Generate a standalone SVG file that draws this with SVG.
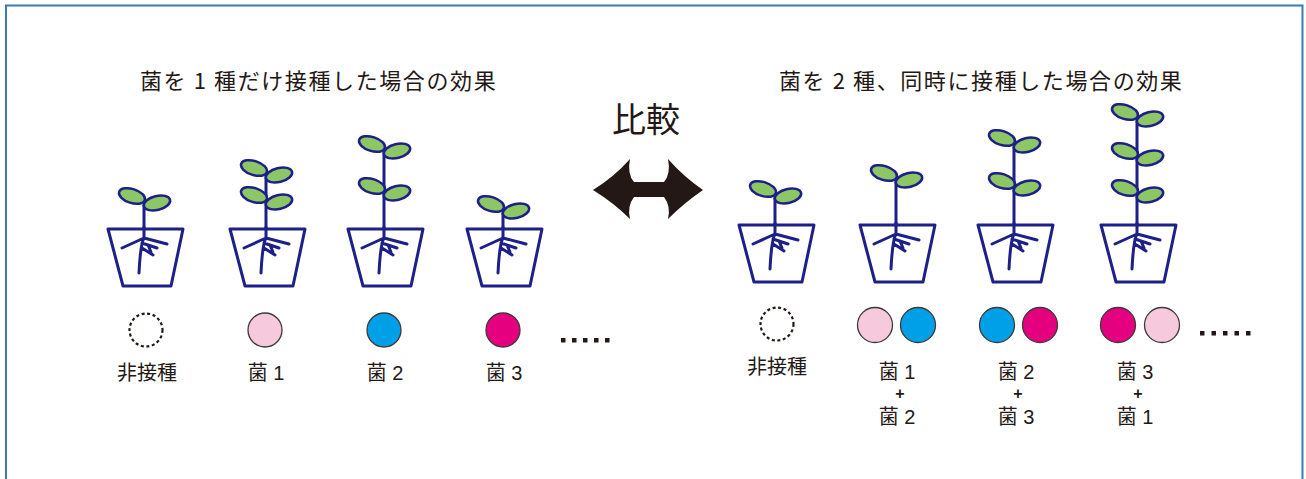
<svg xmlns="http://www.w3.org/2000/svg" xmlns:xlink="http://www.w3.org/1999/xlink" width="1306" height="479" viewBox="0 0 1306 479">
  <style>
    .txt { font-family: "Noto Sans CJK JP", "Noto Sans", sans-serif; fill: #231815; }
    .title { font-size: 22px; letter-spacing: 1.6px; }
    .lbl { font-family: "Liberation Sans", "Noto Sans CJK JP", sans-serif; font-size: 20px; text-anchor: middle; }
    .plus { font-family: "Liberation Sans", sans-serif; font-size: 16px; text-anchor: middle; font-weight: bold; }
    .line { fill: none; stroke: #1d2088; stroke-width: 3; stroke-linejoin: round; stroke-linecap: round; }
    .leaf { fill: #8cc665; stroke: #1d2088; stroke-width: 2.5; }
    .dish { stroke: #3e3a39; stroke-width: 1.3; }
    .none { fill: #fff; stroke: #231815; stroke-width: 2.2; stroke-dasharray: 3 2.6; }
    .dot { fill: #231815; }
  </style>
  <defs>
    <!-- pot with roots, origin = stem x at rim level -->
    <g id="pot">
      <path class="line" d="M-36,0 L39,0 L27,57 L-21,57 Z"/>
      <path class="line" d="M0,-2 L0,9 M0,9 L-22,19 M0,9 L23,15 M0,9 C-3,14 -4,24 -5,44 M-2,14 L13,19 M-2,19 L9,26 M4,16 L7,23"/>
    </g>
    <!-- a pair of leaves, origin = joint on the stem -->
    <g id="leaves">
      <ellipse class="leaf" cx="-12" cy="-9" rx="13.5" ry="7" transform="rotate(18 -12 -9)"/>
      <ellipse class="leaf" cx="13" cy="-2" rx="13.5" ry="7" transform="rotate(-14 13 -2)"/>
    </g>
    <rect id="dot" width="4.5" height="4.5" class="dot"/>
  </defs>

  <rect x="6" y="5.5" width="1296.5" height="480" fill="#fff" stroke="#3a7ab8" stroke-width="2"/>

  <!-- headings -->
  <text class="txt title" x="140" y="89">菌を 1 種だけ接種した場合の効果</text>
  <text class="txt title" x="779" y="89">菌を 2 種、同時に接種した場合の効果</text>
  <text class="txt" x="646" y="132" font-size="34" text-anchor="middle">比較</text>

  <!-- comparison arrow -->
  <g id="compare-arrow">
    <path fill="#231815" d="M593,190 Q614,177 630,159 Q627,174 634,182 L664,182 Q671,174 668,159 Q684,177 703,190 Q684,203 668,219 Q671,206 664,197 L634,197 Q627,206 630,219 Q614,203 593,190 Z"/>
  </g>

  <!-- single inoculation -->
  <g id="plant-none-left">
    <path class="line" d="M144,205 L144,229"/>
    <use xlink:href="#leaves" x="144" y="205"/>
    <use xlink:href="#pot" x="144" y="229"/>
    <circle class="none" cx="146" cy="330" r="16.5"/>
    <text class="txt lbl" x="147" y="380">非接種</text>
  </g>
  <g id="plant-b1">
    <path class="line" d="M266,177 L266,229"/>
    <use xlink:href="#leaves" x="266" y="177"/>
    <use xlink:href="#leaves" x="266" y="204"/>
    <use xlink:href="#pot" x="266" y="229"/>
    <circle class="dish" cx="265" cy="330" r="17" fill="#f6c9dc"/>
    <text class="txt lbl" x="266" y="380">菌 1</text>
  </g>
  <g id="plant-b2">
    <path class="line" d="M384,153 L384,229"/>
    <use xlink:href="#leaves" x="384" y="153"/>
    <use xlink:href="#leaves" x="384" y="195"/>
    <use xlink:href="#pot" x="384" y="229"/>
    <circle class="dish" cx="384" cy="330" r="17" fill="#00a0e9"/>
    <text class="txt lbl" x="385" y="380">菌 2</text>
  </g>
  <g id="plant-b3">
    <path class="line" d="M503,213 L503,229"/>
    <use xlink:href="#leaves" x="503" y="213"/>
    <use xlink:href="#pot" x="503" y="229"/>
    <circle class="dish" cx="503" cy="330" r="17" fill="#e4007f"/>
    <text class="txt lbl" x="504" y="380">菌 3</text>
  </g>
  <g id="more-left">
    <use xlink:href="#dot" x="561" y="338"/>
    <use xlink:href="#dot" x="572" y="338"/>
    <use xlink:href="#dot" x="583" y="338"/>
    <use xlink:href="#dot" x="594" y="338"/>
    <use xlink:href="#dot" x="605" y="338"/>
  </g>

  <!-- paired inoculation -->
  <g id="plant-none-right">
    <path class="line" d="M775,198 L775,225"/>
    <use xlink:href="#leaves" x="775" y="198"/>
    <use xlink:href="#pot" x="775" y="225"/>
    <circle class="none" cx="777" cy="324" r="16.5"/>
    <text class="txt lbl" x="777" y="374">非接種</text>
  </g>
  <g id="plant-b1-b2">
    <path class="line" d="M896,182 L896,225"/>
    <use xlink:href="#leaves" x="896" y="182"/>
    <use xlink:href="#pot" x="896" y="225"/>
    <circle class="dish" cx="875" cy="325" r="17.5" fill="#f6c9dc"/>
    <circle class="dish" cx="918" cy="325" r="17.5" fill="#00a0e9"/>
    <text class="txt lbl" x="897" y="379">菌 1</text>
    <text class="txt plus" x="900" y="398.5">+</text>
    <text class="txt lbl" x="897" y="423.5">菌 2</text>
  </g>
  <g id="plant-b2-b3">
    <path class="line" d="M1014,147 L1014,225"/>
    <use xlink:href="#leaves" x="1014" y="147"/>
    <use xlink:href="#leaves" x="1014" y="190"/>
    <use xlink:href="#pot" x="1014" y="225"/>
    <circle class="dish" cx="997" cy="325" r="17.5" fill="#00a0e9"/>
    <circle class="dish" cx="1040" cy="325" r="17.5" fill="#e4007f"/>
    <text class="txt lbl" x="1016" y="379">菌 2</text>
    <text class="txt plus" x="1018" y="398.5">+</text>
    <text class="txt lbl" x="1016" y="423.5">菌 3</text>
  </g>
  <g id="plant-b3-b1">
    <path class="line" d="M1137,121 L1137,225"/>
    <use xlink:href="#leaves" x="1137" y="121"/>
    <use xlink:href="#leaves" x="1137" y="160"/>
    <use xlink:href="#leaves" x="1137" y="197"/>
    <use xlink:href="#pot" x="1137" y="225"/>
    <circle class="dish" cx="1118" cy="325" r="17.5" fill="#e4007f"/>
    <circle class="dish" cx="1162" cy="325" r="17.5" fill="#f6c9dc"/>
    <text class="txt lbl" x="1135" y="379">菌 3</text>
    <text class="txt plus" x="1138" y="398.5">+</text>
    <text class="txt lbl" x="1135" y="423.5">菌 1</text>
  </g>
  <g id="more-right">
    <use xlink:href="#dot" x="1200" y="331"/>
    <use xlink:href="#dot" x="1211.5" y="331"/>
    <use xlink:href="#dot" x="1223" y="331"/>
    <use xlink:href="#dot" x="1234.5" y="331"/>
    <use xlink:href="#dot" x="1246" y="331"/>
  </g>
</svg>
